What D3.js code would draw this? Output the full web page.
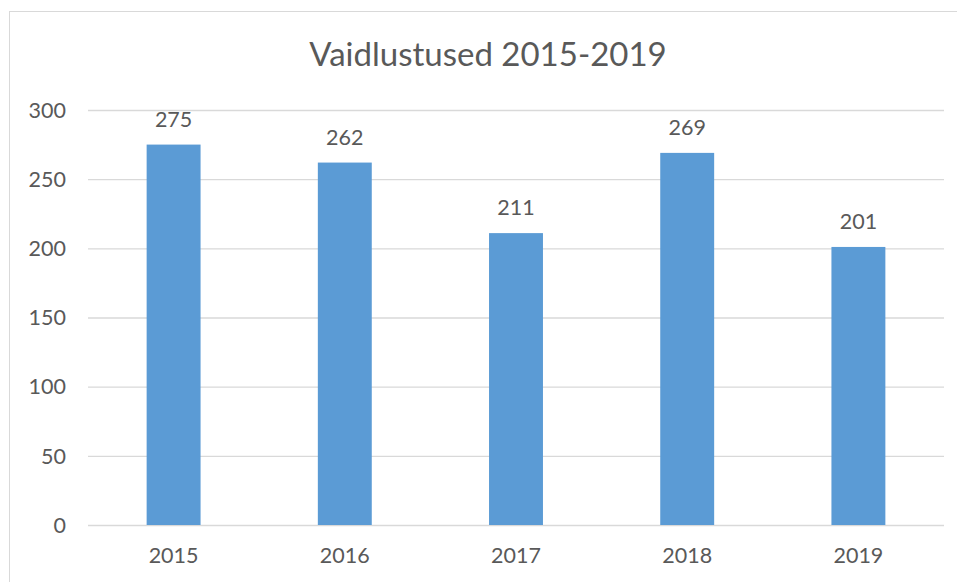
<!DOCTYPE html>
<html>
<head>
<meta charset="utf-8">
<script src="https://cdn.jsdelivr.net/npm/d3@7"></script>
<style>
  body { margin: 0; background: #fff; }
  svg text { font-family: Lato, "Open Sans", sans-serif; fill: #595959; }
</style>
</head>
<body>
<div id="chart-area"></div>
<script>
var years = ["2015", "2016", "2017", "2018", "2019"];
var values = [275, 262, 211, 269, 201];
var yTicks = [0, 50, 100, 150, 200, 250, 300];

var width = 957, height = 582;
var svg = d3.select("#chart-area")
    .append("svg")
    .attr("width", width)
    .attr("height", height);

// chart frame (right and bottom run off the picture)
svg.append("rect")
    .attr("x", 9.5).attr("y", 11.5)
    .attr("width", 960).attr("height", 600)
    .attr("fill", "none")
    .attr("stroke", "#d9d9d9");

var x = d3.scaleBand().domain(years).range([88, 944]).paddingInner(0.685).paddingOuter(0.3425);
var y = d3.scaleLinear().domain([0, 300]).range([525, 110]);

// gridlines
svg.append("g")
    .attr("transform", "translate(88,0)")
    .call(d3.axisLeft(y).tickValues(yTicks).tickSize(-856).tickFormat(""))
    .call(g => g.select(".domain").remove())
    .selectAll("line").attr("stroke", "#d9d9d9").attr("stroke-width", 1.3);

// y labels
svg.append("g").selectAll("text")
    .data(yTicks).enter()
    .append("text")
    .attr("x", 66)
    .attr("y", d => y(d))
    .attr("dy", "0.36em")
    .attr("text-anchor", "end")
    .attr("font-size", 21.5)
    .text(d => d);

// bars
svg.selectAll("rect.bar")
    .data(values).enter()
    .append("rect")
    .attr("class", "bar")
    .attr("x", (d, i) => x(years[i]))
    .attr("y", d => y(d))
    .attr("width", x.bandwidth())
    .attr("height", d => y(0) - y(d))
    .attr("fill", "#5b9bd5");

// value labels
svg.selectAll("text.val")
    .data(values).enter()
    .append("text")
    .attr("class", "val")
    .attr("x", (d, i) => x(years[i]) + x.bandwidth() / 2)
    .attr("y", d => y(d) - 18)
    .attr("text-anchor", "middle")
    .attr("font-size", 21.5)
    .text(d => d);

// x labels
svg.selectAll("text.cat")
    .data(years).enter()
    .append("text")
    .attr("class", "cat")
    .attr("x", d => x(d) + x.bandwidth() / 2)
    .attr("y", 563)
    .attr("text-anchor", "middle")
    .attr("font-size", 21.5)
    .text(d => d);

svg.append("text")
    .attr("x", 488)
    .attr("y", 66)
    .attr("text-anchor", "middle")
    .attr("font-size", 33)
    .text("Vaidlustused 2015-2019");
</script>
</body>
</html>
